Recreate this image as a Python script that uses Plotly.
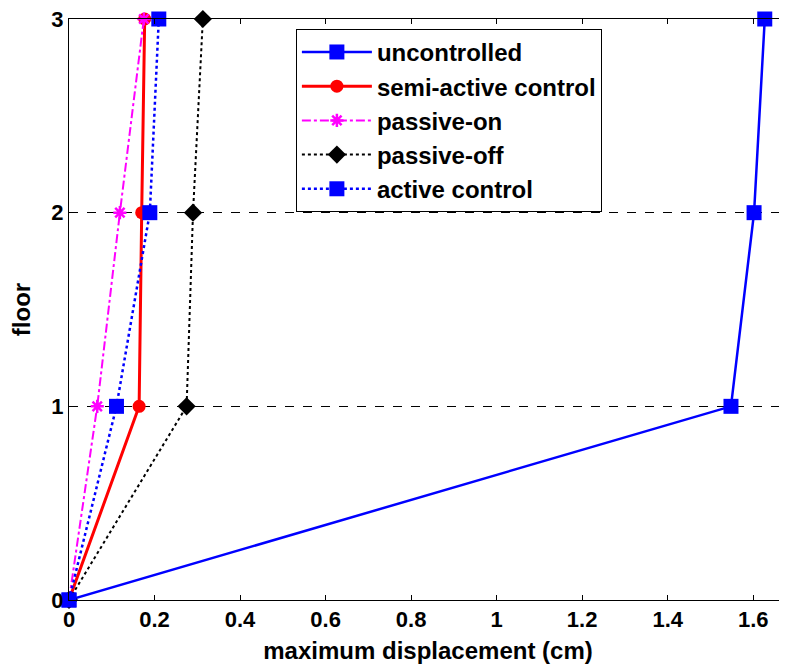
import plotly.graph_objects as go

floors = [0, 1, 2, 3]
uncontrolled = [0, 1.548, 1.602, 1.627]
semi_active = [0, 0.164, 0.170, 0.177]
passive_on = [0, 0.066, 0.119, 0.175]
passive_off = [0, 0.275, 0.290, 0.313]
active = [0, 0.111, 0.189, 0.210]

x_ticks = [0, 0.2, 0.4, 0.6, 0.8, 1.0, 1.2, 1.4, 1.6]
x_ticktext = ["0", "0.2", "0.4", "0.6", "0.8", "1", "1.2", "1.4", "1.6"]
y_ticks = [0, 1, 2, 3]

FONT = "Liberation Sans, Arial, sans-serif"
FS = 24
TFS = 22

fig = go.Figure()
series = [
    ("uncontrolled", uncontrolled, "#0000FF", "solid", 2.5, "square", 15),
    ("semi-active control", semi_active, "#FF0000", "solid", 3, "circle", 13),
    ("passive-on", passive_on, "#FF00FF", "dashdot", 2, "asterisk-open", 11),
    ("passive-off", passive_off, "#000000", "dot", 2, "diamond", 14),
    ("active control", active, "#0000FF", "dot", 2.5, "square", 15),
]
for name, xs, color, dash, w, sym, sz in series:
    mline = dict(width=2.5, color=color) if sym.endswith("open") else dict(width=0)
    fig.add_trace(go.Scatter(
        x=xs, y=floors, name=name, mode="lines+markers", legendgroup=name,
        line=dict(color=color, dash=dash, width=w),
        marker=dict(symbol=sym, size=sz, color=color, line=mline),
        cliponaxis=False,
    ))

fig.update_layout(
    width=779, height=659,
    margin=dict(l=61, r=0, t=11, b=67, autoexpand=False),
    paper_bgcolor="white", plot_bgcolor="white",
    font=dict(family=FONT, size=FS, color="black", weight="bold"),
    showlegend=True,
    legend=dict(
        x=0.316, y=0.983, xanchor="left", yanchor="top",
        bordercolor="black", borderwidth=1, bgcolor="white",
        font=dict(family=FONT, size=FS, color="black", weight="bold"),
        tracegroupgap=0, itemwidth=70,
    ),
    xaxis=dict(
        range=[0, 1.679], tickvals=x_ticks, ticktext=x_ticktext,
        showline=True, linecolor="black", linewidth=1, mirror="ticks",
        ticks="inside", ticklen=5, tickcolor="black",
        showgrid=False, zeroline=False, automargin=False,
        ticklabeloverflow="allow",
        tickfont=dict(family=FONT, size=TFS, weight="bold"),
        title=dict(text="maximum displacement (cm)", standoff=10,
                   font=dict(family=FONT, size=FS, weight="bold")),
    ),
    yaxis=dict(
        range=[0, 3], tickvals=y_ticks,
        showline=True, linecolor="black", linewidth=1, mirror=False,
        ticks="inside", ticklen=5, tickcolor="black",
        showgrid=True, gridcolor="black", griddash="dash", gridwidth=1,
        zeroline=False, automargin=False,
        ticklabeloverflow="allow",
        tickfont=dict(family=FONT, size=TFS, weight="bold"),
        title=dict(text="floor", standoff=24,
                   font=dict(family=FONT, size=FS, weight="bold")),
    ),
)

fig.write_html("out.html")
